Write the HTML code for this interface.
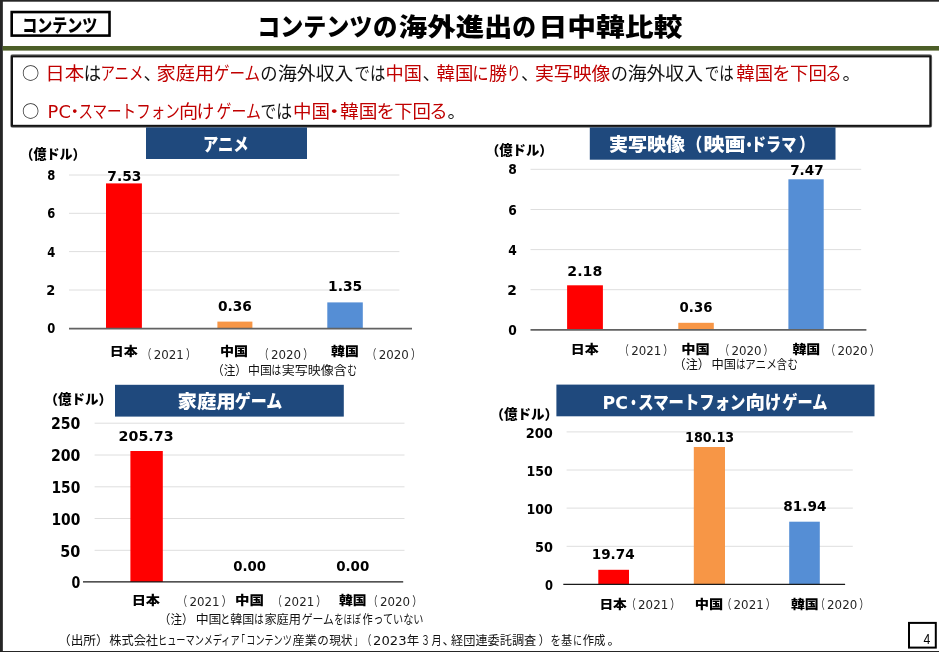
<!DOCTYPE html>
<html lang="ja">
<head>
<meta charset="utf-8">
<title>コンテンツの海外進出の日中韓比較</title>
<style>
html,body{margin:0;padding:0;background:#fff;}
body{width:939px;height:652px;overflow:hidden;font-family:"Liberation Sans","Noto Sans CJK JP",sans-serif;}
svg{display:block;}
text{white-space:pre;}
</style>
</head>
<body>
<svg width="939" height="652" viewBox="0 0 939 652">
<rect x="0" y="0" width="939" height="652" fill="#ffffff"/>
<!-- slide frame -->
<rect x="0" y="0" width="2.85" height="652" fill="#262626"/>
<rect x="0" y="0" width="939" height="1.7" fill="#262626"/>
<rect x="0" y="651" width="939" height="1" fill="#262626"/>
<!-- tag box -->
<rect x="11.7" y="12.05" width="97.8" height="23.55" fill="#ffffff" stroke="#000000" stroke-width="2.6"/>
<!-- green rule -->
<rect x="2.7" y="46" width="936.3" height="4.6" fill="#4c5e27"/>
<!-- summary box -->
<rect x="11.1" y="55.2" width="920.1" height="71.7" rx="1.5" fill="none" stroke="#7a7a7a" stroke-width="1.8"/>
<rect x="12" y="56.4" width="918.3" height="69.4" fill="#ffffff" stroke="#141414" stroke-width="2"/>
<!-- chart headers -->
<g fill="#1f497d">
<rect x="146" y="127.4" width="161" height="31.6"/>
<rect x="589.8" y="127.4" width="245.7" height="32.3"/>
<rect x="115" y="384.8" width="228.8" height="31.8"/>
<rect x="556.4" y="384.6" width="318.1" height="31.7"/>
</g>
<!-- chart 1 -->
<g stroke="#dedede" stroke-width="1">
<line x1="69" x2="399.4" y1="175" y2="175"/>
<line x1="69" x2="399.4" y1="213.3" y2="213.3"/>
<line x1="69" x2="399.4" y1="251.6" y2="251.6"/>
<line x1="69" x2="399.4" y1="290" y2="290"/>
</g>
<rect x="106" y="183.4" width="35.9" height="145" fill="#ff0000"/>
<rect x="217.4" y="321.6" width="35" height="6.8" fill="#f79646"/>
<rect x="327.3" y="302.4" width="35.5" height="26" fill="#558ed5"/>
<line x1="69" x2="412" y1="328.6" y2="328.6" stroke="#626262" stroke-width="1.6"/>
<!-- chart 2 -->
<g stroke="#dedede" stroke-width="1">
<line x1="530.5" x2="861.2" y1="169.3" y2="169.3"/>
<line x1="530.5" x2="861.2" y1="209.5" y2="209.5"/>
<line x1="530.5" x2="861.2" y1="249.6" y2="249.6"/>
<line x1="530.5" x2="861.2" y1="289.7" y2="289.7"/>
</g>
<rect x="567.1" y="285.3" width="35.8" height="44.5" fill="#ff0000"/>
<rect x="678.3" y="322.8" width="35.5" height="7" fill="#f79646"/>
<rect x="788.4" y="179.3" width="35.3" height="150.5" fill="#558ed5"/>
<line x1="530.5" x2="866.4" y1="329.9" y2="329.9" stroke="#626262" stroke-width="1.6"/>
<!-- chart 3 -->
<g stroke="#dedede" stroke-width="1">
<line x1="94.6" x2="404.5" y1="423.2" y2="423.2"/>
<line x1="94.6" x2="404.5" y1="455" y2="455"/>
<line x1="94.6" x2="404.5" y1="486.8" y2="486.8"/>
<line x1="94.6" x2="404.5" y1="518.5" y2="518.5"/>
<line x1="94.6" x2="404.5" y1="550.3" y2="550.3"/>
</g>
<rect x="130.4" y="451" width="32.4" height="131" fill="#ff0000"/>
<line x1="83" x2="403.2" y1="581.9" y2="581.9" stroke="#1a1a1a" stroke-width="1.3"/>
<!-- chart 4 -->
<g stroke="#dedede" stroke-width="1">
<line x1="566.6" x2="852.8" y1="431.9" y2="431.9"/>
<line x1="566.6" x2="852.8" y1="470" y2="470"/>
<line x1="566.6" x2="852.8" y1="508.1" y2="508.1"/>
<line x1="566.6" x2="852.8" y1="546.3" y2="546.3"/>
</g>
<rect x="598.3" y="569.8" width="30.7" height="14.5" fill="#ff0000"/>
<rect x="693.8" y="447" width="31.2" height="137.3" fill="#f79646"/>
<rect x="789.2" y="521.7" width="30.6" height="62.6" fill="#558ed5"/>
<line x1="563.3" x2="845.1" y1="584.4" y2="584.4" stroke="#1a1a1a" stroke-width="1.2"/>
<!-- page number box -->
<rect x="909" y="622.9" width="26.8" height="24.7" fill="#ffffff" stroke="#000000" stroke-width="2"/>

<g>
<text x="22.23" y="32.10" font-size="18" font-family="'Noto Sans CJK JP', sans-serif" fill="#000" font-weight="900" textLength="75.07" lengthAdjust="spacingAndGlyphs">コンテンツ</text>
<text x="257.26" y="36.00" font-size="25.2" font-family="'Noto Sans CJK JP', sans-serif" fill="#000" font-weight="900" textLength="115.13" lengthAdjust="spacingAndGlyphs">コンテンツ</text>
<text x="372.93" y="36.00" font-size="25.2" font-family="'Noto Sans CJK JP', sans-serif" fill="#000" font-weight="900" textLength="24.42" lengthAdjust="spacingAndGlyphs">の</text>
<text x="398.80" y="36.00" font-size="25.2" font-family="'Noto Sans CJK JP', sans-serif" fill="#000" font-weight="900" textLength="113.77" lengthAdjust="spacingAndGlyphs">海外進出</text>
<text x="512.36" y="36.00" font-size="25.2" font-family="'Noto Sans CJK JP', sans-serif" fill="#000" font-weight="900" textLength="23.76" lengthAdjust="spacingAndGlyphs">の</text>
<text x="538.57" y="36.00" font-size="25.2" font-family="'Noto Sans CJK JP', sans-serif" fill="#000" font-weight="900" textLength="143.84" lengthAdjust="spacingAndGlyphs">日中韓比較</text>
<text x="45.35" y="80.30" font-size="18" font-family="'Noto Sans CJK JP', sans-serif" fill="#c00000" textLength="38.95" lengthAdjust="spacingAndGlyphs">日本</text>
<text x="83.67" y="80.30" font-size="18" font-family="'Noto Sans CJK JP', sans-serif" fill="#111111" textLength="17.32" lengthAdjust="spacingAndGlyphs">は</text>
<text x="100.40" y="80.30" font-size="18" font-family="'Noto Sans CJK JP', sans-serif" fill="#c00000" textLength="43.09" lengthAdjust="spacingAndGlyphs">アニメ</text>
<text x="143.50" y="80.30" font-size="18" font-family="'Noto Sans CJK JP', sans-serif" fill="#111111">、</text>
<text x="156.40" y="80.30" font-size="18" font-family="'Noto Sans CJK JP', sans-serif" fill="#c00000" textLength="57.74" lengthAdjust="spacingAndGlyphs">家庭用</text>
<text x="214.00" y="80.30" font-size="18" font-family="'Noto Sans CJK JP', sans-serif" fill="#c00000" textLength="46.15" lengthAdjust="spacingAndGlyphs">ゲーム</text>
<text x="260.34" y="80.30" font-size="18" font-family="'Noto Sans CJK JP', sans-serif" fill="#111111" textLength="17.32" lengthAdjust="spacingAndGlyphs">の</text>
<text x="278.00" y="80.30" font-size="18" font-family="'Noto Sans CJK JP', sans-serif" fill="#111111" textLength="75.40" lengthAdjust="spacingAndGlyphs">海外収入</text>
<text x="354.55" y="80.30" font-size="18" font-family="'Noto Sans CJK JP', sans-serif" fill="#111111" textLength="30.75" lengthAdjust="spacingAndGlyphs">では</text>
<text x="385.59" y="80.30" font-size="18" font-family="'Noto Sans CJK JP', sans-serif" fill="#c00000" textLength="36.42" lengthAdjust="spacingAndGlyphs">中国</text>
<text x="422.50" y="80.30" font-size="18" font-family="'Noto Sans CJK JP', sans-serif" fill="#111111">、</text>
<text x="436.60" y="80.30" font-size="18" font-family="'Noto Sans CJK JP', sans-serif" fill="#c00000" textLength="36.82" lengthAdjust="spacingAndGlyphs">韓国</text>
<text x="472.17" y="80.30" font-size="18" font-family="'Noto Sans CJK JP', sans-serif" fill="#c00000" textLength="16.44" lengthAdjust="spacingAndGlyphs">に</text>
<text x="489.00" y="80.30" font-size="18" font-family="'Noto Sans CJK JP', sans-serif" fill="#c00000" textLength="18.00" lengthAdjust="spacingAndGlyphs">勝</text>
<text x="506.65" y="80.30" font-size="18" font-family="'Noto Sans CJK JP', sans-serif" fill="#c00000" textLength="14.10" lengthAdjust="spacingAndGlyphs">り</text>
<text x="521.00" y="80.30" font-size="18" font-family="'Noto Sans CJK JP', sans-serif" fill="#111111">、</text>
<text x="535.00" y="80.30" font-size="18" font-family="'Noto Sans CJK JP', sans-serif" fill="#c00000" textLength="75.40" lengthAdjust="spacingAndGlyphs">実写映像</text>
<text x="610.74" y="80.30" font-size="18" font-family="'Noto Sans CJK JP', sans-serif" fill="#111111" textLength="17.21" lengthAdjust="spacingAndGlyphs">の</text>
<text x="627.70" y="80.30" font-size="18" font-family="'Noto Sans CJK JP', sans-serif" fill="#111111" textLength="75.30" lengthAdjust="spacingAndGlyphs">海外収入</text>
<text x="704.80" y="80.30" font-size="18" font-family="'Noto Sans CJK JP', sans-serif" fill="#111111" textLength="28.90" lengthAdjust="spacingAndGlyphs">では</text>
<text x="736.30" y="80.30" font-size="18" font-family="'Noto Sans CJK JP', sans-serif" fill="#c00000" textLength="36.72" lengthAdjust="spacingAndGlyphs">韓国</text>
<text x="772.38" y="80.30" font-size="18" font-family="'Noto Sans CJK JP', sans-serif" fill="#c00000" textLength="18.36" lengthAdjust="spacingAndGlyphs">を</text>
<text x="790.00" y="80.30" font-size="18" font-family="'Noto Sans CJK JP', sans-serif" fill="#c00000" textLength="36.82" lengthAdjust="spacingAndGlyphs">下回</text>
<text x="825.17" y="80.30" font-size="18" font-family="'Noto Sans CJK JP', sans-serif" fill="#c00000" textLength="16.46" lengthAdjust="spacingAndGlyphs">る</text>
<text x="842.40" y="80.30" font-size="18" font-family="'Noto Sans CJK JP', sans-serif" fill="#111111">。</text>
<text x="47.61" y="118.40" font-size="18" font-family="'DejaVu Sans', 'Noto Sans CJK JP', sans-serif" fill="#c00000" textLength="23.26" lengthAdjust="spacingAndGlyphs">PC</text>
<text x="65.97" y="118.40" font-size="18" font-family="'Noto Sans CJK JP', sans-serif" fill="#c00000" textLength="17.55" lengthAdjust="spacingAndGlyphs">・</text>
<text x="78.40" y="118.40" font-size="18" font-family="'Noto Sans CJK JP', sans-serif" fill="#c00000" textLength="101.41" lengthAdjust="spacingAndGlyphs">スマートフォン</text>
<text x="178.94" y="118.40" font-size="18" font-family="'Noto Sans CJK JP', sans-serif" fill="#c00000" textLength="19.12" lengthAdjust="spacingAndGlyphs">向</text>
<text x="196.51" y="118.40" font-size="18" font-family="'Noto Sans CJK JP', sans-serif" fill="#c00000" textLength="17.88" lengthAdjust="spacingAndGlyphs">け</text>
<text x="216.60" y="118.40" font-size="18" font-family="'Noto Sans CJK JP', sans-serif" fill="#c00000" textLength="44.22" lengthAdjust="spacingAndGlyphs">ゲーム</text>
<text x="260.42" y="118.40" font-size="18" font-family="'Noto Sans CJK JP', sans-serif" fill="#111111" textLength="31.58" lengthAdjust="spacingAndGlyphs">では</text>
<text x="292.97" y="118.40" font-size="18" font-family="'Noto Sans CJK JP', sans-serif" fill="#c00000" textLength="37.06" lengthAdjust="spacingAndGlyphs">中国</text>
<text x="322.68" y="118.40" font-size="18" font-family="'Noto Sans CJK JP', sans-serif" fill="#c00000" textLength="22.95" lengthAdjust="spacingAndGlyphs">・</text>
<text x="340.00" y="118.40" font-size="18" font-family="'Noto Sans CJK JP', sans-serif" fill="#c00000" textLength="37.44" lengthAdjust="spacingAndGlyphs">韓国</text>
<text x="376.57" y="118.40" font-size="18" font-family="'Noto Sans CJK JP', sans-serif" fill="#c00000" textLength="18.48" lengthAdjust="spacingAndGlyphs">を</text>
<text x="394.20" y="118.40" font-size="18" font-family="'Noto Sans CJK JP', sans-serif" fill="#c00000" textLength="36.82" lengthAdjust="spacingAndGlyphs">下回</text>
<text x="429.26" y="118.40" font-size="18" font-family="'Noto Sans CJK JP', sans-serif" fill="#c00000" textLength="18.39" lengthAdjust="spacingAndGlyphs">る</text>
<text x="447.60" y="118.40" font-size="18" font-family="'Noto Sans CJK JP', sans-serif" fill="#111111">。</text>
<text x="22.00" y="79.00" font-size="16.4" font-family="'Noto Sans CJK JP', sans-serif" fill="#222" font-weight="500" textLength="17.26" lengthAdjust="spacingAndGlyphs">○</text>
<text x="22.00" y="117.10" font-size="16.4" font-family="'Noto Sans CJK JP', sans-serif" fill="#222" font-weight="500" textLength="17.26" lengthAdjust="spacingAndGlyphs">○</text>
<text x="202.95" y="150.60" font-size="18" font-family="'Noto Sans CJK JP', sans-serif" fill="#ffffff" font-weight="900" textLength="45.69" lengthAdjust="spacingAndGlyphs">アニメ</text>
<text x="608.90" y="151.20" font-size="18" font-family="'Noto Sans CJK JP', sans-serif" fill="#ffffff" font-weight="900" textLength="76.10" lengthAdjust="spacingAndGlyphs">実写映像</text>
<text x="686.87" y="151.20" font-size="18" font-family="'Noto Sans CJK JP', sans-serif" fill="#ffffff" font-weight="900" textLength="15.43" lengthAdjust="spacingAndGlyphs">（</text>
<text x="703.43" y="151.20" font-size="18" font-family="'Noto Sans CJK JP', sans-serif" fill="#ffffff" font-weight="900" textLength="42.07" lengthAdjust="spacingAndGlyphs">映画</text>
<text x="742.60" y="151.20" font-size="18" font-family="'Noto Sans CJK JP', sans-serif" fill="#ffffff" font-weight="900" textLength="13.20" lengthAdjust="spacingAndGlyphs">・</text>
<text x="751.06" y="151.20" font-size="18" font-family="'Noto Sans CJK JP', sans-serif" fill="#ffffff" font-weight="900" textLength="45.14" lengthAdjust="spacingAndGlyphs">ドラマ</text>
<text x="799.00" y="151.20" font-size="18" font-family="'Noto Sans CJK JP', sans-serif" fill="#ffffff" font-weight="900" textLength="15.69" lengthAdjust="spacingAndGlyphs">）</text>
<text x="177.50" y="408.30" font-size="18.5" font-family="'Noto Sans CJK JP', sans-serif" fill="#ffffff" font-weight="900" textLength="58.28" lengthAdjust="spacingAndGlyphs">家庭用</text>
<text x="234.80" y="408.30" font-size="18.5" font-family="'Noto Sans CJK JP', sans-serif" fill="#ffffff" font-weight="900" textLength="47.53" lengthAdjust="spacingAndGlyphs">ゲーム</text>
<text x="602.46" y="408.80" font-size="18.5" font-family="'DejaVu Sans', 'Noto Sans CJK JP', sans-serif" fill="#ffffff" font-weight="900" textLength="25.37" lengthAdjust="spacingAndGlyphs">PC</text>
<text x="626.90" y="408.80" font-size="18.5" font-family="'Noto Sans CJK JP', sans-serif" fill="#ffffff" font-weight="900" textLength="12.95" lengthAdjust="spacingAndGlyphs">・</text>
<text x="638.37" y="408.80" font-size="18.5" font-family="'Noto Sans CJK JP', sans-serif" fill="#ffffff" font-weight="900" textLength="107.04" lengthAdjust="spacingAndGlyphs">スマートフォン</text>
<text x="745.45" y="408.80" font-size="18.5" font-family="'Noto Sans CJK JP', sans-serif" fill="#ffffff" font-weight="900" textLength="19.48" lengthAdjust="spacingAndGlyphs">向</text>
<text x="765.02" y="408.80" font-size="18.5" font-family="'Noto Sans CJK JP', sans-serif" fill="#ffffff" font-weight="900" textLength="16.21" lengthAdjust="spacingAndGlyphs">け</text>
<text x="782.30" y="408.80" font-size="18.5" font-family="'Noto Sans CJK JP', sans-serif" fill="#ffffff" font-weight="900" textLength="45.11" lengthAdjust="spacingAndGlyphs">ゲーム</text>
<text x="20.48" y="158.80" font-size="13.5" font-family="'Noto Sans CJK JP', sans-serif" fill="#000" font-weight="900" textLength="65.12" lengthAdjust="spacingAndGlyphs">（億ドル）</text>
<text x="485.88" y="155.00" font-size="13.5" font-family="'Noto Sans CJK JP', sans-serif" fill="#000" font-weight="900" textLength="66.84" lengthAdjust="spacingAndGlyphs">（億ドル）</text>
<text x="44.60" y="403.50" font-size="13.5" font-family="'Noto Sans CJK JP', sans-serif" fill="#000" font-weight="900" textLength="67.50" lengthAdjust="spacingAndGlyphs">（億ドル）</text>
<text x="490.40" y="418.60" font-size="13.5" font-family="'Noto Sans CJK JP', sans-serif" fill="#000" font-weight="900" textLength="67.50" lengthAdjust="spacingAndGlyphs">（億ドル）</text>
<text x="47.30" y="180.00" font-size="13.5" font-family="'DejaVu Sans', 'Noto Sans CJK JP', sans-serif" fill="#000" font-weight="700" textLength="8.04" lengthAdjust="spacingAndGlyphs">8</text>
<text x="47.30" y="218.30" font-size="13.5" font-family="'DejaVu Sans', 'Noto Sans CJK JP', sans-serif" fill="#000" font-weight="700" textLength="8.04" lengthAdjust="spacingAndGlyphs">6</text>
<text x="47.30" y="256.60" font-size="13.5" font-family="'DejaVu Sans', 'Noto Sans CJK JP', sans-serif" fill="#000" font-weight="700" textLength="8.04" lengthAdjust="spacingAndGlyphs">4</text>
<text x="46.34" y="295.00" font-size="13.5" font-family="'DejaVu Sans', 'Noto Sans CJK JP', sans-serif" fill="#000" font-weight="700" textLength="9.04" lengthAdjust="spacingAndGlyphs">2</text>
<text x="47.30" y="333.30" font-size="13.5" font-family="'DejaVu Sans', 'Noto Sans CJK JP', sans-serif" fill="#000" font-weight="700" textLength="8.04" lengthAdjust="spacingAndGlyphs">0</text>
<text x="508.30" y="174.30" font-size="13.5" font-family="'DejaVu Sans', 'Noto Sans CJK JP', sans-serif" fill="#000" font-weight="700" textLength="8.56" lengthAdjust="spacingAndGlyphs">8</text>
<text x="508.30" y="214.50" font-size="13.5" font-family="'DejaVu Sans', 'Noto Sans CJK JP', sans-serif" fill="#000" font-weight="700" textLength="8.56" lengthAdjust="spacingAndGlyphs">6</text>
<text x="508.30" y="254.60" font-size="13.5" font-family="'DejaVu Sans', 'Noto Sans CJK JP', sans-serif" fill="#000" font-weight="700" textLength="8.56" lengthAdjust="spacingAndGlyphs">4</text>
<text x="507.28" y="294.80" font-size="13.5" font-family="'DejaVu Sans', 'Noto Sans CJK JP', sans-serif" fill="#000" font-weight="700" textLength="9.63" lengthAdjust="spacingAndGlyphs">2</text>
<text x="508.30" y="334.90" font-size="13.5" font-family="'DejaVu Sans', 'Noto Sans CJK JP', sans-serif" fill="#000" font-weight="700" textLength="8.56" lengthAdjust="spacingAndGlyphs">0</text>
<text x="50.96" y="429.30" font-size="15" font-family="'DejaVu Sans', 'Noto Sans CJK JP', sans-serif" fill="#000" font-weight="700" textLength="29.45" lengthAdjust="spacingAndGlyphs">250</text>
<text x="50.96" y="461.10" font-size="15" font-family="'DejaVu Sans', 'Noto Sans CJK JP', sans-serif" fill="#000" font-weight="700" textLength="29.45" lengthAdjust="spacingAndGlyphs">200</text>
<text x="51.48" y="492.90" font-size="15" font-family="'DejaVu Sans', 'Noto Sans CJK JP', sans-serif" fill="#000" font-weight="700" textLength="28.93" lengthAdjust="spacingAndGlyphs">150</text>
<text x="51.48" y="524.70" font-size="15" font-family="'DejaVu Sans', 'Noto Sans CJK JP', sans-serif" fill="#000" font-weight="700" textLength="28.93" lengthAdjust="spacingAndGlyphs">100</text>
<text x="60.34" y="556.50" font-size="15" font-family="'DejaVu Sans', 'Noto Sans CJK JP', sans-serif" fill="#000" font-weight="700" textLength="20.08" lengthAdjust="spacingAndGlyphs">50</text>
<text x="71.60" y="588.30" font-size="15" font-family="'DejaVu Sans', 'Noto Sans CJK JP', sans-serif" fill="#000" font-weight="700" textLength="8.77" lengthAdjust="spacingAndGlyphs">0</text>
<text x="525.77" y="437.70" font-size="14" font-family="'DejaVu Sans', 'Noto Sans CJK JP', sans-serif" fill="#000" font-weight="700" textLength="27.09" lengthAdjust="spacingAndGlyphs">200</text>
<text x="526.60" y="475.80" font-size="14" font-family="'DejaVu Sans', 'Noto Sans CJK JP', sans-serif" fill="#000" font-weight="700" textLength="26.27" lengthAdjust="spacingAndGlyphs">150</text>
<text x="526.60" y="513.90" font-size="14" font-family="'DejaVu Sans', 'Noto Sans CJK JP', sans-serif" fill="#000" font-weight="700" textLength="26.27" lengthAdjust="spacingAndGlyphs">100</text>
<text x="534.98" y="552.10" font-size="14" font-family="'DejaVu Sans', 'Noto Sans CJK JP', sans-serif" fill="#000" font-weight="700" textLength="17.88" lengthAdjust="spacingAndGlyphs">50</text>
<text x="544.90" y="590.20" font-size="14" font-family="'DejaVu Sans', 'Noto Sans CJK JP', sans-serif" fill="#000" font-weight="700" textLength="7.99" lengthAdjust="spacingAndGlyphs">0</text>
<text x="107.30" y="180.80" font-size="14" font-family="'DejaVu Sans', 'Noto Sans CJK JP', sans-serif" fill="#000" font-weight="700" textLength="34.03" lengthAdjust="spacingAndGlyphs">7.53</text>
<text x="217.90" y="310.80" font-size="14" font-family="'DejaVu Sans', 'Noto Sans CJK JP', sans-serif" fill="#000" font-weight="700" textLength="33.93" lengthAdjust="spacingAndGlyphs">0.36</text>
<text x="328.01" y="290.90" font-size="14" font-family="'DejaVu Sans', 'Noto Sans CJK JP', sans-serif" fill="#000" font-weight="700" textLength="34.23" lengthAdjust="spacingAndGlyphs">1.35</text>
<text x="567.39" y="275.60" font-size="14" font-family="'DejaVu Sans', 'Noto Sans CJK JP', sans-serif" fill="#000" font-weight="700" textLength="34.96" lengthAdjust="spacingAndGlyphs">2.18</text>
<text x="679.60" y="312.10" font-size="14" font-family="'DejaVu Sans', 'Noto Sans CJK JP', sans-serif" fill="#000" font-weight="700" textLength="32.80" lengthAdjust="spacingAndGlyphs">0.36</text>
<text x="790.20" y="175.00" font-size="14" font-family="'DejaVu Sans', 'Noto Sans CJK JP', sans-serif" fill="#000" font-weight="700" textLength="33.42" lengthAdjust="spacingAndGlyphs">7.47</text>
<text x="118.62" y="441.30" font-size="14.5" font-family="'DejaVu Sans', 'Noto Sans CJK JP', sans-serif" fill="#000" font-weight="700" textLength="54.95" lengthAdjust="spacingAndGlyphs">205.73</text>
<text x="233.20" y="571.00" font-size="14.5" font-family="'DejaVu Sans', 'Noto Sans CJK JP', sans-serif" fill="#000" font-weight="700" textLength="32.78" lengthAdjust="spacingAndGlyphs">0.00</text>
<text x="336.20" y="571.00" font-size="14.5" font-family="'DejaVu Sans', 'Noto Sans CJK JP', sans-serif" fill="#000" font-weight="700" textLength="33.08" lengthAdjust="spacingAndGlyphs">0.00</text>
<text x="685.09" y="442.10" font-size="14" font-family="'DejaVu Sans', 'Noto Sans CJK JP', sans-serif" fill="#000" font-weight="700" textLength="49.08" lengthAdjust="spacingAndGlyphs">180.13</text>
<text x="591.73" y="559.30" font-size="14" font-family="'DejaVu Sans', 'Noto Sans CJK JP', sans-serif" fill="#000" font-weight="700" textLength="42.92" lengthAdjust="spacingAndGlyphs">19.74</text>
<text x="783.30" y="511.10" font-size="14" font-family="'DejaVu Sans', 'Noto Sans CJK JP', sans-serif" fill="#000" font-weight="700" textLength="43.15" lengthAdjust="spacingAndGlyphs">81.94</text>
<text x="109.78" y="356.20" font-size="12.5" font-family="'Noto Sans CJK JP', sans-serif" fill="#000" font-weight="900" textLength="27.96" lengthAdjust="spacingAndGlyphs">日本</text>
<text x="142.60" y="359.10" font-size="12.5" font-family="'Noto Sans CJK JP', sans-serif" fill="#222" textLength="8.75" lengthAdjust="spacingAndGlyphs">（</text>
<text x="153.80" y="359.10" font-size="12.3" font-family="'DejaVu Sans', 'Noto Sans CJK JP', sans-serif" fill="#222" textLength="30.09" lengthAdjust="spacingAndGlyphs">2021</text>
<text x="186.00" y="359.10" font-size="12.5" font-family="'Noto Sans CJK JP', sans-serif" fill="#222" textLength="10.00" lengthAdjust="spacingAndGlyphs">）</text>
<text x="220.08" y="356.20" font-size="12.5" font-family="'Noto Sans CJK JP', sans-serif" fill="#000" font-weight="900" textLength="28.09" lengthAdjust="spacingAndGlyphs">中国</text>
<text x="259.85" y="359.10" font-size="12.5" font-family="'Noto Sans CJK JP', sans-serif" fill="#222" textLength="8.75" lengthAdjust="spacingAndGlyphs">（</text>
<text x="271.05" y="359.10" font-size="12.3" font-family="'DejaVu Sans', 'Noto Sans CJK JP', sans-serif" fill="#222" textLength="30.09" lengthAdjust="spacingAndGlyphs">2020</text>
<text x="303.25" y="359.10" font-size="12.5" font-family="'Noto Sans CJK JP', sans-serif" fill="#222" textLength="10.00" lengthAdjust="spacingAndGlyphs">）</text>
<text x="331.10" y="356.20" font-size="12.5" font-family="'Noto Sans CJK JP', sans-serif" fill="#000" font-weight="900" textLength="27.76" lengthAdjust="spacingAndGlyphs">韓国</text>
<text x="367.50" y="359.10" font-size="12.5" font-family="'Noto Sans CJK JP', sans-serif" fill="#222" textLength="8.75" lengthAdjust="spacingAndGlyphs">（</text>
<text x="378.70" y="359.10" font-size="12.3" font-family="'DejaVu Sans', 'Noto Sans CJK JP', sans-serif" fill="#222" textLength="30.09" lengthAdjust="spacingAndGlyphs">2020</text>
<text x="410.90" y="359.10" font-size="12.5" font-family="'Noto Sans CJK JP', sans-serif" fill="#222" textLength="10.00" lengthAdjust="spacingAndGlyphs">）</text>
<text x="570.79" y="353.60" font-size="12.5" font-family="'Noto Sans CJK JP', sans-serif" fill="#000" font-weight="900" textLength="27.86" lengthAdjust="spacingAndGlyphs">日本</text>
<text x="619.95" y="354.50" font-size="12.5" font-family="'Noto Sans CJK JP', sans-serif" fill="#222" textLength="8.75" lengthAdjust="spacingAndGlyphs">（</text>
<text x="631.15" y="354.50" font-size="12.3" font-family="'DejaVu Sans', 'Noto Sans CJK JP', sans-serif" fill="#222" textLength="30.09" lengthAdjust="spacingAndGlyphs">2021</text>
<text x="663.35" y="354.50" font-size="12.5" font-family="'Noto Sans CJK JP', sans-serif" fill="#222" textLength="10.00" lengthAdjust="spacingAndGlyphs">）</text>
<text x="681.16" y="353.60" font-size="12.5" font-family="'Noto Sans CJK JP', sans-serif" fill="#000" font-weight="900" textLength="28.51" lengthAdjust="spacingAndGlyphs">中国</text>
<text x="720.20" y="354.50" font-size="12.5" font-family="'Noto Sans CJK JP', sans-serif" fill="#222" textLength="8.75" lengthAdjust="spacingAndGlyphs">（</text>
<text x="731.40" y="354.50" font-size="12.3" font-family="'DejaVu Sans', 'Noto Sans CJK JP', sans-serif" fill="#222" textLength="30.09" lengthAdjust="spacingAndGlyphs">2020</text>
<text x="763.60" y="354.50" font-size="12.5" font-family="'Noto Sans CJK JP', sans-serif" fill="#222" textLength="10.00" lengthAdjust="spacingAndGlyphs">）</text>
<text x="792.40" y="353.60" font-size="12.5" font-family="'Noto Sans CJK JP', sans-serif" fill="#000" font-weight="900" textLength="27.96" lengthAdjust="spacingAndGlyphs">韓国</text>
<text x="826.30" y="354.50" font-size="12.5" font-family="'Noto Sans CJK JP', sans-serif" fill="#222" textLength="8.75" lengthAdjust="spacingAndGlyphs">（</text>
<text x="837.50" y="354.50" font-size="12.3" font-family="'DejaVu Sans', 'Noto Sans CJK JP', sans-serif" fill="#222" textLength="30.09" lengthAdjust="spacingAndGlyphs">2020</text>
<text x="869.70" y="354.50" font-size="12.5" font-family="'Noto Sans CJK JP', sans-serif" fill="#222" textLength="10.00" lengthAdjust="spacingAndGlyphs">）</text>
<text x="131.67" y="605.40" font-size="12.5" font-family="'Noto Sans CJK JP', sans-serif" fill="#000" font-weight="900" textLength="28.37" lengthAdjust="spacingAndGlyphs">日本</text>
<text x="178.35" y="605.80" font-size="12.5" font-family="'Noto Sans CJK JP', sans-serif" fill="#222" textLength="8.75" lengthAdjust="spacingAndGlyphs">（</text>
<text x="189.55" y="605.80" font-size="12.3" font-family="'DejaVu Sans', 'Noto Sans CJK JP', sans-serif" fill="#222" textLength="30.09" lengthAdjust="spacingAndGlyphs">2021</text>
<text x="221.75" y="605.80" font-size="12.5" font-family="'Noto Sans CJK JP', sans-serif" fill="#222" textLength="10.00" lengthAdjust="spacingAndGlyphs">）</text>
<text x="234.94" y="605.40" font-size="12.5" font-family="'Noto Sans CJK JP', sans-serif" fill="#000" font-weight="900" textLength="28.94" lengthAdjust="spacingAndGlyphs">中国</text>
<text x="272.90" y="605.80" font-size="12.5" font-family="'Noto Sans CJK JP', sans-serif" fill="#222" textLength="8.75" lengthAdjust="spacingAndGlyphs">（</text>
<text x="284.10" y="605.80" font-size="12.3" font-family="'DejaVu Sans', 'Noto Sans CJK JP', sans-serif" fill="#222" textLength="30.09" lengthAdjust="spacingAndGlyphs">2021</text>
<text x="316.30" y="605.80" font-size="12.5" font-family="'Noto Sans CJK JP', sans-serif" fill="#222" textLength="10.00" lengthAdjust="spacingAndGlyphs">）</text>
<text x="339.00" y="605.40" font-size="12.5" font-family="'Noto Sans CJK JP', sans-serif" fill="#000" font-weight="900" textLength="27.55" lengthAdjust="spacingAndGlyphs">韓国</text>
<text x="368.80" y="605.80" font-size="12.5" font-family="'Noto Sans CJK JP', sans-serif" fill="#222" textLength="8.75" lengthAdjust="spacingAndGlyphs">（</text>
<text x="380.00" y="605.80" font-size="12.3" font-family="'DejaVu Sans', 'Noto Sans CJK JP', sans-serif" fill="#222" textLength="30.09" lengthAdjust="spacingAndGlyphs">2020</text>
<text x="412.20" y="605.80" font-size="12.5" font-family="'Noto Sans CJK JP', sans-serif" fill="#222" textLength="10.00" lengthAdjust="spacingAndGlyphs">）</text>
<text x="599.40" y="608.80" font-size="12.5" font-family="'Noto Sans CJK JP', sans-serif" fill="#000" font-weight="900" textLength="27.45" lengthAdjust="spacingAndGlyphs">日本</text>
<text x="626.90" y="609.10" font-size="12.5" font-family="'Noto Sans CJK JP', sans-serif" fill="#222" textLength="8.75" lengthAdjust="spacingAndGlyphs">（</text>
<text x="638.10" y="609.10" font-size="12.3" font-family="'DejaVu Sans', 'Noto Sans CJK JP', sans-serif" fill="#222" textLength="30.09" lengthAdjust="spacingAndGlyphs">2021</text>
<text x="670.30" y="609.10" font-size="12.5" font-family="'Noto Sans CJK JP', sans-serif" fill="#222" textLength="10.00" lengthAdjust="spacingAndGlyphs">）</text>
<text x="694.66" y="608.80" font-size="12.5" font-family="'Noto Sans CJK JP', sans-serif" fill="#000" font-weight="900" textLength="28.51" lengthAdjust="spacingAndGlyphs">中国</text>
<text x="722.40" y="609.10" font-size="12.5" font-family="'Noto Sans CJK JP', sans-serif" fill="#222" textLength="8.75" lengthAdjust="spacingAndGlyphs">（</text>
<text x="733.60" y="609.10" font-size="12.3" font-family="'DejaVu Sans', 'Noto Sans CJK JP', sans-serif" fill="#222" textLength="30.09" lengthAdjust="spacingAndGlyphs">2021</text>
<text x="765.80" y="609.10" font-size="12.5" font-family="'Noto Sans CJK JP', sans-serif" fill="#222" textLength="10.00" lengthAdjust="spacingAndGlyphs">）</text>
<text x="790.90" y="608.80" font-size="12.5" font-family="'Noto Sans CJK JP', sans-serif" fill="#000" font-weight="900" textLength="27.76" lengthAdjust="spacingAndGlyphs">韓国</text>
<text x="815.90" y="609.10" font-size="12.5" font-family="'Noto Sans CJK JP', sans-serif" fill="#222" textLength="8.75" lengthAdjust="spacingAndGlyphs">（</text>
<text x="827.10" y="609.10" font-size="12.3" font-family="'DejaVu Sans', 'Noto Sans CJK JP', sans-serif" fill="#222" textLength="30.09" lengthAdjust="spacingAndGlyphs">2020</text>
<text x="859.30" y="609.10" font-size="12.5" font-family="'Noto Sans CJK JP', sans-serif" fill="#222" textLength="10.00" lengthAdjust="spacingAndGlyphs">）</text>
<text x="212.03" y="374.70" font-size="12.5" font-family="'Noto Sans CJK JP', sans-serif" fill="#111" textLength="35.00" lengthAdjust="spacingAndGlyphs">（注）</text>
<text x="248.05" y="374.70" font-size="12.5" font-family="'Noto Sans CJK JP', sans-serif" fill="#111" textLength="23.83" lengthAdjust="spacingAndGlyphs">中国</text>
<text x="271.53" y="374.70" font-size="12.5" font-family="'Noto Sans CJK JP', sans-serif" fill="#111" textLength="9.66" lengthAdjust="spacingAndGlyphs">は</text>
<text x="281.70" y="374.70" font-size="12.5" font-family="'Noto Sans CJK JP', sans-serif" fill="#111" textLength="64.98" lengthAdjust="spacingAndGlyphs">実写映像含</text>
<text x="347.33" y="374.70" font-size="12.5" font-family="'Noto Sans CJK JP', sans-serif" fill="#111" textLength="9.66" lengthAdjust="spacingAndGlyphs">む</text>
<text x="673.53" y="369.20" font-size="12.5" font-family="'Noto Sans CJK JP', sans-serif" fill="#111" textLength="36.43" lengthAdjust="spacingAndGlyphs">（注）</text>
<text x="711.52" y="369.20" font-size="12.5" font-family="'Noto Sans CJK JP', sans-serif" fill="#111" textLength="24.47" lengthAdjust="spacingAndGlyphs">中国</text>
<text x="736.27" y="369.20" font-size="12.5" font-family="'Noto Sans CJK JP', sans-serif" fill="#111" textLength="9.09" lengthAdjust="spacingAndGlyphs">は</text>
<text x="744.95" y="369.20" font-size="12.5" font-family="'Noto Sans CJK JP', sans-serif" fill="#111" textLength="32.04" lengthAdjust="spacingAndGlyphs">アニメ</text>
<text x="776.70" y="369.20" font-size="12.5" font-family="'Noto Sans CJK JP', sans-serif" fill="#111" textLength="10.10" lengthAdjust="spacingAndGlyphs">含</text>
<text x="787.57" y="369.20" font-size="12.5" font-family="'Noto Sans CJK JP', sans-serif" fill="#111" textLength="10.34" lengthAdjust="spacingAndGlyphs">む</text>
<text x="158.87" y="624.40" font-size="12.5" font-family="'Noto Sans CJK JP', sans-serif" fill="#111" textLength="34.82" lengthAdjust="spacingAndGlyphs">（注）</text>
<text x="195.67" y="624.40" font-size="12.5" font-family="'Noto Sans CJK JP', sans-serif" fill="#111" textLength="25.85" lengthAdjust="spacingAndGlyphs">中国</text>
<text x="220.20" y="624.40" font-size="12.5" font-family="'Noto Sans CJK JP', sans-serif" fill="#111" textLength="10.00" lengthAdjust="spacingAndGlyphs">と</text>
<text x="230.30" y="624.40" font-size="12.5" font-family="'Noto Sans CJK JP', sans-serif" fill="#111" textLength="23.98" lengthAdjust="spacingAndGlyphs">韓国</text>
<text x="254.25" y="624.40" font-size="12.5" font-family="'Noto Sans CJK JP', sans-serif" fill="#111" textLength="9.43" lengthAdjust="spacingAndGlyphs">は</text>
<text x="264.40" y="624.40" font-size="12.5" font-family="'Noto Sans CJK JP', sans-serif" fill="#111" textLength="36.69" lengthAdjust="spacingAndGlyphs">家庭用</text>
<text x="301.70" y="624.40" font-size="12.5" font-family="'Noto Sans CJK JP', sans-serif" fill="#111" textLength="32.33" lengthAdjust="spacingAndGlyphs">ゲーム</text>
<text x="334.15" y="624.40" font-size="12.5" font-family="'Noto Sans CJK JP', sans-serif" fill="#111" textLength="9.43" lengthAdjust="spacingAndGlyphs">を</text>
<text x="343.61" y="624.40" font-size="12.5" font-family="'Noto Sans CJK JP', sans-serif" fill="#111" textLength="17.35" lengthAdjust="spacingAndGlyphs">ほぼ</text>
<text x="362.40" y="624.40" font-size="12.5" font-family="'Noto Sans CJK JP', sans-serif" fill="#111" textLength="10.19" lengthAdjust="spacingAndGlyphs">作</text>
<text x="373.30" y="624.40" font-size="12.5" font-family="'Noto Sans CJK JP', sans-serif" fill="#111" textLength="50.20" lengthAdjust="spacingAndGlyphs">っていない</text>
<text x="57.98" y="644.80" font-size="12.5" font-family="'Noto Sans CJK JP', sans-serif" fill="#111" textLength="50.75" lengthAdjust="spacingAndGlyphs">（出所）</text>
<text x="109.20" y="644.80" font-size="12.5" font-family="'Noto Sans CJK JP', sans-serif" fill="#111" textLength="48.91" lengthAdjust="spacingAndGlyphs">株式会社</text>
<text x="157.95" y="644.80" font-size="12.5" font-family="'Noto Sans CJK JP', sans-serif" fill="#111" textLength="81.82" lengthAdjust="spacingAndGlyphs">ヒューマンメディア</text>
<text x="236.56" y="644.80" font-size="12.5" font-family="'Noto Sans CJK JP', sans-serif" fill="#111" textLength="8.50" lengthAdjust="spacingAndGlyphs">「</text>
<text x="246.37" y="644.80" font-size="12.5" font-family="'Noto Sans CJK JP', sans-serif" fill="#111" textLength="45.39" lengthAdjust="spacingAndGlyphs">コンテンツ</text>
<text x="292.60" y="644.80" font-size="12.5" font-family="'Noto Sans CJK JP', sans-serif" fill="#111" textLength="24.22" lengthAdjust="spacingAndGlyphs">産業</text>
<text x="317.17" y="644.80" font-size="12.5" font-family="'Noto Sans CJK JP', sans-serif" fill="#111" textLength="11.59" lengthAdjust="spacingAndGlyphs">の</text>
<text x="329.20" y="644.80" font-size="12.5" font-family="'Noto Sans CJK JP', sans-serif" fill="#111" textLength="23.33" lengthAdjust="spacingAndGlyphs">現状</text>
<text x="354.40" y="644.80" font-size="12.5" font-family="'Noto Sans CJK JP', sans-serif" fill="#111" textLength="7.25" lengthAdjust="spacingAndGlyphs">」</text>
<text x="362.20" y="644.80" font-size="12.5" font-family="'Noto Sans CJK JP', sans-serif" fill="#111" textLength="9.06" lengthAdjust="spacingAndGlyphs">（</text>
<text x="373.10" y="644.80" font-size="12.5" font-family="'DejaVu Sans', 'Noto Sans CJK JP', sans-serif" fill="#111" textLength="33.40" lengthAdjust="spacingAndGlyphs">2023</text>
<text x="406.70" y="644.80" font-size="12.5" font-family="'Noto Sans CJK JP', sans-serif" fill="#111" textLength="12.40" lengthAdjust="spacingAndGlyphs">年</text>
<text x="421.05" y="644.80" font-size="12.5" font-family="'Noto Sans CJK JP', sans-serif" fill="#111" textLength="9.06" lengthAdjust="spacingAndGlyphs">３</text>
<text x="431.50" y="644.80" font-size="12.5" font-family="'Noto Sans CJK JP', sans-serif" fill="#111" textLength="10.23" lengthAdjust="spacingAndGlyphs">月</text>
<text x="442.50" y="644.80" font-size="12.5" font-family="'Noto Sans CJK JP', sans-serif" fill="#111">、</text>
<text x="451.10" y="644.80" font-size="12.5" font-family="'Noto Sans CJK JP', sans-serif" fill="#111" textLength="85.11" lengthAdjust="spacingAndGlyphs">経団連委託調査</text>
<text x="538.70" y="644.80" font-size="12.5" font-family="'Noto Sans CJK JP', sans-serif" fill="#111" textLength="11.25" lengthAdjust="spacingAndGlyphs">）</text>
<text x="550.47" y="644.80" font-size="12.5" font-family="'Noto Sans CJK JP', sans-serif" fill="#111" textLength="10.34" lengthAdjust="spacingAndGlyphs">を</text>
<text x="561.00" y="644.80" font-size="12.5" font-family="'Noto Sans CJK JP', sans-serif" fill="#111" textLength="11.15" lengthAdjust="spacingAndGlyphs">基</text>
<text x="573.30" y="644.80" font-size="12.5" font-family="'Noto Sans CJK JP', sans-serif" fill="#111" textLength="8.75" lengthAdjust="spacingAndGlyphs">に</text>
<text x="582.70" y="644.80" font-size="12.5" font-family="'Noto Sans CJK JP', sans-serif" fill="#111" textLength="22.76" lengthAdjust="spacingAndGlyphs">作成</text>
<text x="607.60" y="644.80" font-size="12.5" font-family="'Noto Sans CJK JP', sans-serif" fill="#111">。</text>
<text x="923.40" y="643.70" font-size="15.5" font-family="'Liberation Sans', sans-serif" fill="#000" textLength="6.80" lengthAdjust="spacingAndGlyphs">4</text>
</g>
</svg>
</body>
</html>
